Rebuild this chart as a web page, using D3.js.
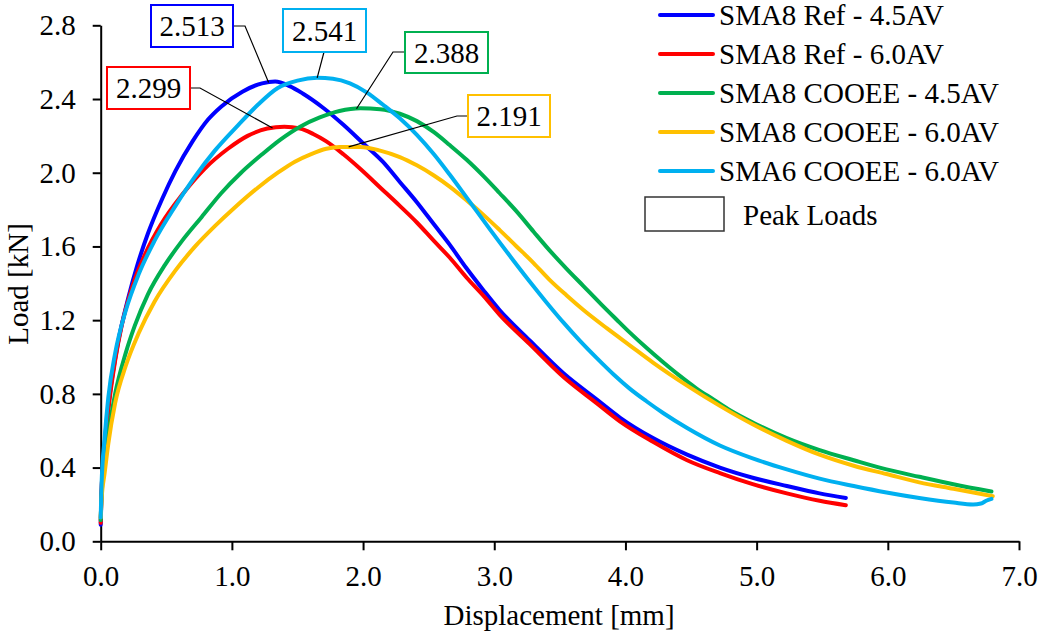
<!DOCTYPE html>
<html>
<head>
<meta charset="utf-8">
<script src="https://cdn.jsdelivr.net/npm/d3@7"></script>
<style>
  html, body { margin: 0; padding: 0; background: #ffffff; }
  svg { display: block; font-family: "Liberation Serif", "Times New Roman", serif; }
</style>
</head>
<body>
<svg id="chart" width="1039" height="634"></svg>
<script>
// Load–displacement curves, [displacement mm, load kN]
const sma8Ref45 = [
  [0, 0.09], [0.006, 0.25], [0.03, 0.53], [0.07, 0.80], [0.13, 1.07], [0.21, 1.32],
  [0.28, 1.50], [0.36, 1.67], [0.47, 1.86], [0.57, 2.01], [0.70, 2.17], [0.82, 2.29],
  [0.92, 2.36], [1.08, 2.44], [1.23, 2.485], [1.33, 2.495], [1.44, 2.47], [1.54, 2.43],
  [1.70, 2.35], [1.85, 2.26], [2.00, 2.16], [2.15, 2.06], [2.28, 1.95], [2.41, 1.84],
  [2.54, 1.72], [2.66, 1.61], [2.79, 1.48], [2.92, 1.36], [3.04, 1.255], [3.27, 1.09],
  [3.53, 0.91], [3.78, 0.77], [3.96, 0.67], [4.21, 0.56], [4.47, 0.47], [4.72, 0.40],
  [4.97, 0.345], [5.23, 0.30], [5.48, 0.26], [5.68, 0.235]
];
const sma8Ref60 = [
  [0, 0.10], [0.006, 0.27], [0.03, 0.50], [0.058, 0.71], [0.11, 0.98], [0.16, 1.17],
  [0.24, 1.38], [0.34, 1.56], [0.46, 1.72], [0.62, 1.88], [0.79, 2.02], [0.97, 2.13],
  [1.12, 2.20], [1.27, 2.24], [1.40, 2.25], [1.52, 2.24], [1.62, 2.21], [1.72, 2.17],
  [1.85, 2.10], [1.98, 2.02], [2.13, 1.92], [2.28, 1.82], [2.41, 1.73], [2.54, 1.63],
  [2.66, 1.54], [2.79, 1.43], [2.92, 1.33], [3.04, 1.23], [3.27, 1.07], [3.53, 0.89],
  [3.78, 0.75], [3.96, 0.65], [4.21, 0.54], [4.47, 0.44], [4.72, 0.37], [4.97, 0.31],
  [5.23, 0.26], [5.48, 0.22], [5.68, 0.196]
];
const sma8Cooee45 = [
  [0, 0.115], [0.006, 0.24], [0.03, 0.42], [0.058, 0.58], [0.11, 0.80], [0.19, 1.02],
  [0.26, 1.17], [0.36, 1.34], [0.49, 1.50], [0.62, 1.63], [0.77, 1.76], [0.92, 1.89],
  [1.07, 2.00], [1.23, 2.10], [1.37, 2.18], [1.52, 2.25], [1.67, 2.30], [1.82, 2.335],
  [1.98, 2.35], [2.13, 2.345], [2.28, 2.32], [2.41, 2.28], [2.54, 2.22], [2.66, 2.15],
  [2.79, 2.07], [2.92, 1.98], [3.04, 1.89], [3.17, 1.79], [3.30, 1.68], [3.42, 1.58],
  [3.55, 1.48], [3.68, 1.385], [3.81, 1.29], [3.93, 1.205], [4.03, 1.135], [4.16, 1.05],
  [4.29, 0.97], [4.41, 0.90], [4.54, 0.83], [4.67, 0.77], [4.80, 0.71], [4.97, 0.645],
  [5.23, 0.56], [5.48, 0.495], [5.74, 0.44], [5.99, 0.39], [6.24, 0.35], [6.50, 0.31],
  [6.79, 0.27]
];
const sma8Cooee60 = [
  [0, 0.13], [0.006, 0.22], [0.03, 0.37], [0.058, 0.53], [0.11, 0.75], [0.19, 0.95],
  [0.29, 1.13], [0.41, 1.30], [0.57, 1.47], [0.72, 1.60], [0.87, 1.71], [1.02, 1.81],
  [1.20, 1.92], [1.35, 2.00], [1.48, 2.06], [1.60, 2.10], [1.72, 2.13], [1.82, 2.14],
  [1.98, 2.14], [2.13, 2.12], [2.28, 2.085], [2.41, 2.04], [2.54, 1.985], [2.66, 1.925],
  [2.79, 1.85], [2.92, 1.77], [3.04, 1.69], [3.17, 1.60], [3.30, 1.51], [3.42, 1.42],
  [3.55, 1.335], [3.68, 1.255], [3.86, 1.155], [4.03, 1.065], [4.21, 0.97], [4.47, 0.845],
  [4.72, 0.735], [4.97, 0.635], [5.23, 0.545], [5.48, 0.47], [5.74, 0.41], [5.99, 0.365],
  [6.24, 0.32], [6.50, 0.285], [6.80, 0.245]
];
const sma6Cooee60 = [
  [0, 0.13], [0.006, 0.30], [0.03, 0.56], [0.058, 0.78], [0.11, 1.02], [0.19, 1.25],
  [0.29, 1.45], [0.41, 1.63], [0.57, 1.82], [0.72, 1.98], [0.87, 2.12], [1.05, 2.26],
  [1.20, 2.37], [1.35, 2.46], [1.50, 2.50], [1.65, 2.515], [1.77, 2.51], [1.90, 2.485],
  [2.03, 2.435], [2.15, 2.37], [2.28, 2.295], [2.41, 2.205], [2.54, 2.10], [2.66, 1.99],
  [2.79, 1.865], [2.97, 1.69], [3.15, 1.52], [3.27, 1.41], [3.40, 1.295], [3.53, 1.185],
  [3.65, 1.09], [3.78, 0.995], [3.91, 0.905], [4.03, 0.83], [4.16, 0.76], [4.29, 0.695],
  [4.47, 0.615], [4.72, 0.52], [4.97, 0.45], [5.23, 0.39], [5.48, 0.34], [5.74, 0.30],
  [5.99, 0.265], [6.24, 0.235], [6.50, 0.21], [6.65, 0.20], [6.71, 0.205], [6.75, 0.22],
  [6.79, 0.23]
];

const seriesNames = [
  "SMA8 Ref - 4.5AV", "SMA8 Ref - 6.0AV", "SMA8 COOEE - 4.5AV",
  "SMA8 COOEE - 6.0AV", "SMA6 COOEE - 6.0AV"
];
const seriesColors = ["#0000FF", "#FF0000", "#00B050", "#FFC000", "#00B0F0"];
const seriesData = [sma8Ref45, sma8Ref60, sma8Cooee45, sma8Cooee60, sma6Cooee60];

// Peak load callouts and the displacement where each leader meets its curve
const peakLoads = [2.513, 2.299, 2.388, 2.191, 2.541];
const peakDisp = [1.28, 1.31, 1.95, 1.89, 1.65];

const xTicks = [0, 1, 2, 3, 4, 5, 6, 7];
const yTicks = [0, 0.4, 0.8, 1.2, 1.6, 2.0, 2.4, 2.8];

const svg = d3.select("#chart");
const FONT = 29;

const x = d3.scaleLinear().domain([0, 7]).range([100.7, 1019]);
const y = d3.scaleLinear().domain([0, 2.8]).range([541.3, 25.3]);

// Axes
const xAxis = svg.append("g")
  .attr("transform", `translate(0,${y(0)})`)
  .call(d3.axisBottom(x).tickValues(xTicks).tickFormat(d3.format(".1f"))
    .tickSize(9).tickSizeOuter(0).tickPadding(15));
const yAxis = svg.append("g")
  .attr("transform", `translate(${x(0)},0)`)
  .call(d3.axisLeft(y).tickValues(yTicks).tickFormat(d3.format(".1f"))
    .tickSize(8).tickSizeOuter(0).tickPadding(17));

[xAxis, yAxis].forEach(g => {
  g.select(".domain").attr("stroke", "#000").attr("stroke-width", 2);
  g.selectAll(".tick line").attr("stroke", "#000").attr("stroke-width", 2);
  g.selectAll(".tick text")
    .attr("fill", "#000")
    .style("font-family", "'Liberation Serif','Times New Roman',serif")
    .style("font-size", FONT + "px");
});

// Axis titles
svg.append("text")
  .attr("x", 559).attr("y", 625)
  .attr("text-anchor", "middle")
  .style("font-size", FONT + "px")
  .text("Displacement [mm]");
svg.append("text")
  .attr("transform", "translate(28,284) rotate(-90)")
  .attr("text-anchor", "middle")
  .style("font-size", FONT + "px")
  .text("Load [kN]");

// Curves
const line = d3.line()
  .x(d => x(d[0]))
  .y(d => y(d[1]))
  .curve(d3.curveMonotoneX);

svg.append("g").selectAll("path")
  .data(seriesData)
  .join("path")
  .attr("d", line)
  .attr("fill", "none")
  .attr("stroke", (d, i) => seriesColors[i])
  .attr("stroke-width", 4)
  .attr("stroke-linejoin", "round")
  .attr("stroke-linecap", "round");

// Load on a curve at a given displacement (linear between points)
function loadAt(data, d) {
  const i = d3.bisector(p => p[0]).left(data, d);
  if (i <= 0) return data[0][1];
  if (i >= data.length) return data[data.length - 1][1];
  const a = data[i - 1], b = data[i];
  return a[1] + (b[1] - a[1]) * (d - a[0]) / (b[0] - a[0]);
}

// Callout boxes with their leader elbows
const callouts = [
  { s: 0, box: [151, 5, 82, 42], path: [[233, 26], [245, 26]] },
  { s: 1, box: [107, 67, 83, 42], path: [[190, 88], [200, 88]] },
  { s: 2, box: [405, 32, 83, 41], path: [[405, 52], [393, 52]] },
  { s: 3, box: [468, 95, 82, 42], path: [[468, 116], [457, 116]] },
  { s: 4, box: [283, 9, 83, 43], path: [[324, 52]] }
];

const cg = svg.append("g");
callouts.forEach(c => {
  const i = c.s;
  const px = x(peakDisp[i]);
  const py = y(loadAt(seriesData[i], peakDisp[i]));
  const pts = c.path.concat([[px, py]]);
  cg.append("path")
    .attr("d", d3.line()(pts))
    .attr("fill", "none")
    .attr("stroke", "#000")
    .attr("stroke-width", 1.2);
  const [bx, by, bw, bh] = c.box;
  cg.append("rect")
    .attr("x", bx).attr("y", by).attr("width", bw).attr("height", bh)
    .attr("fill", "#fff")
    .attr("stroke", seriesColors[i])
    .attr("stroke-width", 2);
  cg.append("text")
    .attr("x", bx + bw / 2).attr("y", by + bh / 2 + 10)
    .attr("text-anchor", "middle")
    .style("font-size", FONT + "px")
    .text(d3.format(".3f")(peakLoads[i]));
});

// Legend
const legend = svg.append("g");
const legendY = [15, 54, 93, 132, 171];
seriesNames.forEach((name, i) => {
  legend.append("line")
    .attr("x1", 660).attr("x2", 713)
    .attr("y1", legendY[i]).attr("y2", legendY[i])
    .attr("stroke", seriesColors[i])
    .attr("stroke-width", 4)
    .attr("stroke-linecap", "round");
  legend.append("text")
    .attr("x", 719).attr("y", legendY[i] + 10)
    .style("font-size", FONT + "px")
    .text(name);
});
legend.append("rect")
  .attr("x", 645).attr("y", 197).attr("width", 79).attr("height", 34)
  .attr("fill", "#fff")
  .attr("stroke", "#333")
  .attr("stroke-width", 1.5);
legend.append("text")
  .attr("x", 743).attr("y", 225)
  .style("font-size", FONT + "px")
  .text("Peak Loads");
</script>
</body>
</html>
